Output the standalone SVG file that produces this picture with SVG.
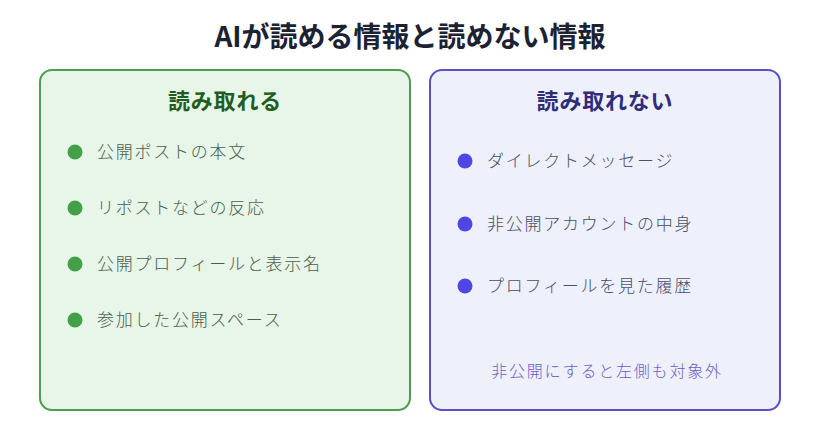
<svg xmlns="http://www.w3.org/2000/svg" width="820" height="440" viewBox="0 0 820 440">
<style>
text{font-family:"Noto Sans CJK JP","Noto Sans",sans-serif}
.title{font-size:28px;font-weight:700;fill:#1b2232}
.h{font-size:22px;font-weight:700;text-anchor:middle;letter-spacing:0.8px}
.item{font-size:17px;font-weight:300;letter-spacing:1.75px}
.g .item{fill:#48604a}
.p .item{fill:#4a4e66}
.g .dot{fill:#43a047}
.p .dot{fill:#4f46e5}
</style>
<rect width="820" height="440" fill="#ffffff"/>
<text class="title" x="410" y="47" text-anchor="middle">AIが読める情報と読めない情報</text>
<g id="readable" class="g">
<rect x="40" y="70" width="370" height="340" rx="12" fill="#e8f5e9" stroke="#4a9e4e" stroke-width="2"/>
<text class="h" x="225" y="109" fill="#1e5e22">読み取れる</text>
<circle class="dot" cx="75" cy="152" r="7.5"/><text class="item" x="97" y="158">公開ポストの本文</text>
<circle class="dot" cx="75" cy="208" r="7.5"/><text class="item" x="97" y="214">リポストなどの反応</text>
<circle class="dot" cx="75" cy="264" r="7.5"/><text class="item" x="97" y="270">公開プロフィールと表示名</text>
<circle class="dot" cx="75" cy="320" r="7.5"/><text class="item" x="97" y="326">参加した公開スペース</text>
</g>
<g id="unreadable" class="p">
<rect x="430" y="70" width="350" height="340" rx="12" fill="#eef1fc" stroke="#5a50c8" stroke-width="2"/>
<text class="h" x="605" y="109" fill="#2f2c78">読み取れない</text>
<circle class="dot" cx="465" cy="161" r="7.5"/><text class="item" x="487" y="167">ダイレクトメッセージ</text>
<circle class="dot" cx="465" cy="224" r="7.5"/><text class="item" x="487" y="230">非公開アカウントの中身</text>
<circle class="dot" cx="465" cy="286" r="7.5"/><text class="item" x="487" y="292">プロフィールを見た履歴</text>
<text x="607" y="377" text-anchor="middle" font-size="16" font-weight="300" letter-spacing="1.8" fill="#6a5fc0">非公開にすると左側も対象外</text>
</g>
<g id="connectors"/>
</svg>
